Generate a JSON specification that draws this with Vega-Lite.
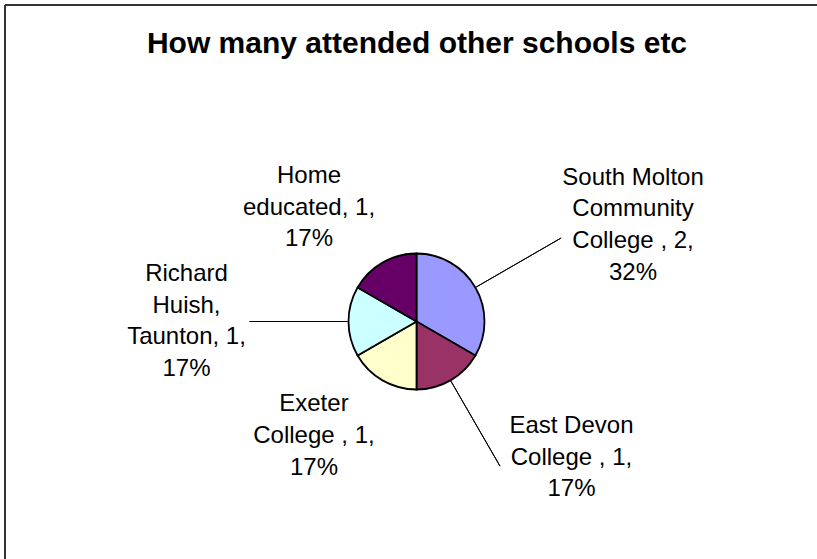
{
  "$schema": "https://vega.github.io/schema/vega-lite/v6.json",
  "autosize": {"type": "none"},
  "padding": {"left": 5, "top": 5, "right": 0, "bottom": 0},
  "width": 812,
  "height": 554,
  "background": "white",
  "title": {
    "text": "How many attended other schools etc",
    "font": "Liberation Sans",
    "fontSize": 30,
    "fontWeight": "bold",
    "color": "#000000",
    "anchor": "middle",
    "dx": 6,
    "offset": -55
  },
  "config": {
    "view": {"stroke": null},
    "text": {"font": "Liberation Sans"}
  },
  "data": {
    "values": [
      {"school": "South Molton Community College", "count": 2, "rank": 1, "label": "South Molton\nCommunity\nCollege , 2,\n32%"},
      {"school": "East Devon College", "count": 1, "rank": 2, "label": "East Devon\nCollege , 1,\n17%"},
      {"school": "Exeter College", "count": 1, "rank": 3, "label": "Exeter\nCollege , 1,\n17%"},
      {"school": "Richard Huish, Taunton", "count": 1, "rank": 4, "label": "Richard\nHuish,\nTaunton, 1,\n17%"},
      {"school": "Home educated", "count": 1, "rank": 5, "label": "Home\neducated, 1,\n17%"}
    ]
  },
  "layer": [
    {
      "data": {"values": [{}]},
      "mark": {"type": "rule", "stroke": "#333333", "strokeWidth": 2},
      "encoding": {
        "x": {"value": 0},
        "x2": {"value": 812},
        "y": {"value": 0}
      }
    },
    {
      "data": {"values": [{}]},
      "mark": {"type": "rule", "stroke": "#333333", "strokeWidth": 2},
      "encoding": {
        "x": {"value": 0},
        "y": {"value": 0},
        "y2": {"value": 554}
      }
    },
    {
      "mark": {"type": "arc", "x": 411.5, "y": 316.5, "radius": 68, "stroke": "#000000", "strokeWidth": 1.8},
      "encoding": {
        "theta": {"field": "count", "type": "quantitative", "stack": true},
        "order": {"field": "rank", "type": "quantitative"},
        "color": {
          "field": "school",
          "type": "nominal",
          "scale": {
            "domain": ["South Molton Community College", "East Devon College", "Exeter College", "Richard Huish, Taunton", "Home educated"],
            "range": ["#9999FF", "#993366", "#FFFFCC", "#CCFFFF", "#660066"]
          },
          "legend": null
        }
      }
    },
    {
      "mark": {"type": "arc", "x": 411.5, "y": 316.5, "radius": 167, "radius2": 69, "padAngle": 3.14159, "fillOpacity": 0, "stroke": "#000000", "strokeWidth": 1},
      "encoding": {
        "theta": {"field": "count", "type": "quantitative", "stack": true},
        "order": {"field": "rank", "type": "quantitative"},
        "strokeOpacity": {
          "condition": {"test": "datum.school !== 'Exeter College' && datum.school !== 'Home educated'", "value": 1},
          "value": 0
        }
      }
    },
    {
      "mark": {"type": "text", "x": 411.5, "y": 316.5, "radius": 235.6, "dx": 12.5, "dy": -25.9, "fontSize": 24, "lineHeight": 31.7, "lineBreak": "\n", "align": "center", "baseline": "middle", "color": "#000000"},
      "encoding": {
        "theta": {"field": "count", "type": "quantitative", "stack": true},
        "order": {"field": "rank", "type": "quantitative"},
        "text": {"condition": {"test": "datum.school === 'South Molton Community College'", "field": "label"}, "value": ""}
      }
    },
    {
      "mark": {"type": "text", "x": 411.5, "y": 316.5, "radius": 195.5, "dx": 57.2, "dy": -64.7, "fontSize": 24, "lineHeight": 31.7, "lineBreak": "\n", "align": "center", "baseline": "middle", "color": "#000000"},
      "encoding": {
        "theta": {"field": "count", "type": "quantitative", "stack": true},
        "order": {"field": "rank", "type": "quantitative"},
        "text": {"condition": {"test": "datum.school === 'East Devon College'", "field": "label"}, "value": ""}
      }
    },
    {
      "mark": {"type": "text", "x": 411.5, "y": 316.5, "radius": 150.5, "dx": -27.3, "dy": -47.4, "fontSize": 24, "lineHeight": 31.7, "lineBreak": "\n", "align": "center", "baseline": "middle", "color": "#000000"},
      "encoding": {
        "theta": {"field": "count", "type": "quantitative", "stack": true},
        "order": {"field": "rank", "type": "quantitative"},
        "text": {"condition": {"test": "datum.school === 'Exeter College'", "field": "label"}, "value": ""}
      }
    },
    {
      "mark": {"type": "text", "x": 411.5, "y": 316.5, "radius": 230, "dx": 0, "dy": -47.5, "fontSize": 24, "lineHeight": 31.7, "lineBreak": "\n", "align": "center", "baseline": "middle", "color": "#000000"},
      "encoding": {
        "theta": {"field": "count", "type": "quantitative", "stack": true},
        "order": {"field": "rank", "type": "quantitative"},
        "text": {"condition": {"test": "datum.school === 'Richard Huish, Taunton'", "field": "label"}, "value": ""}
      }
    },
    {
      "mark": {"type": "text", "x": 411.5, "y": 316.5, "radius": 152.4, "dx": -31.3, "dy": -13.6, "fontSize": 24, "lineHeight": 31.7, "lineBreak": "\n", "align": "center", "baseline": "middle", "color": "#000000"},
      "encoding": {
        "theta": {"field": "count", "type": "quantitative", "stack": true},
        "order": {"field": "rank", "type": "quantitative"},
        "text": {"condition": {"test": "datum.school === 'Home educated'", "field": "label"}, "value": ""}
      }
    }
  ]
}
